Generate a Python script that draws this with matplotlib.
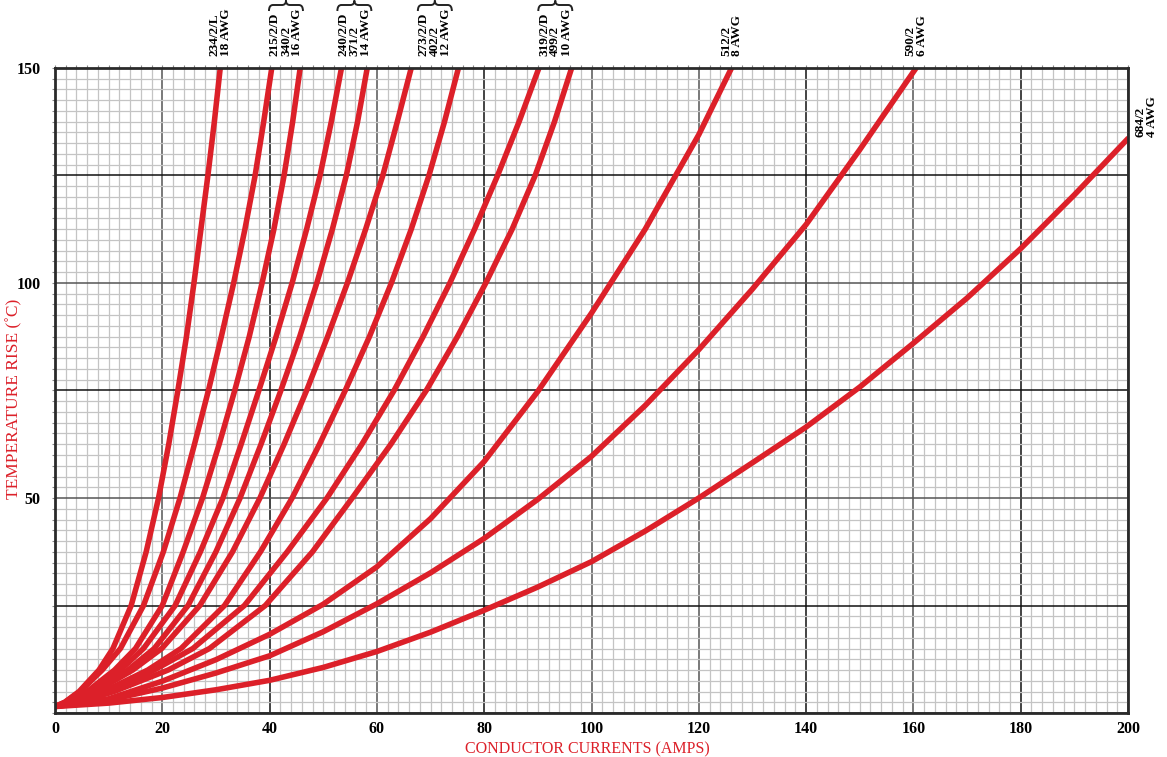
"""
Temperature rise vs conductor current for a set of cable types.
"""
import numpy as np
import matplotlib
matplotlib.use("Agg")
import matplotlib.pyplot as plt
import matplotlib.transforms as mtransforms
from matplotlib.path import Path
from matplotlib.patches import PathPatch
from matplotlib.ticker import MultipleLocator, FuncFormatter

# ---------------------------------------------------------------------------
# data: current (A) -> temperature rise (C)
# ---------------------------------------------------------------------------
# the steep curves were read where they cross the horizontal grid lines
rise_levels = [1.5, 2.5, 5, 10, 15, 25, 37.5, 50, 62.5, 75, 87.5, 100,
               112.5, 125, 137.5, 150]

amps_234_2_L = [0, 1.8, 4.5, 8.2, 10.8, 14.2, 17.0, 19.3, 21.2, 22.9, 24.5,
                25.9, 27.2, 28.5, 29.7, 30.8]
amps_215_2_D = [0, 1.9, 4.7, 8.8, 12.2, 16.5, 20.2, 23.3, 26.0, 28.6, 31.0,
                33.3, 35.4, 37.3, 38.9, 40.4]
amps_340_2 = [0, 2.4, 6.0, 11.1, 15.0, 20.0, 23.9, 27.5, 30.6, 33.5, 36.2,
              38.6, 40.8, 42.7, 44.3, 45.7]
amps_240_2_D = [0, 2.6, 6.4, 12.2, 16.5, 22.4, 27.1, 31.3, 34.7, 38.0, 41.2,
                44.2, 46.9, 49.4, 51.5, 53.4]
amps_371_2 = [0, 2.9, 7.2, 13.6, 18.5, 24.8, 30.0, 34.5, 38.4, 42.1, 45.6,
              48.8, 51.7, 54.3, 56.4, 58.2]
amps_273_2_D = [0, 3.1, 7.6, 14.5, 19.9, 27.0, 33.1, 38.2, 42.7, 46.9, 50.8,
                54.5, 57.9, 61.1, 63.8, 66.4]
amps_402_2 = [0, 3.7, 9.1, 17.3, 23.5, 31.6, 38.3, 44.2, 49.3, 54.1, 58.6,
              62.7, 66.4, 69.7, 72.6, 75.2]
amps_319_2_D = [0, 3.9, 9.6, 18.5, 25.7, 35.3, 43.3, 50.7, 57.2, 63.2, 68.6,
                73.6, 78.2, 82.5, 86.5, 90.2]
amps_499_2 = [0, 4.4, 11.0, 21.1, 28.8, 39.2, 48.0, 55.4, 62.6, 69.2, 75.0,
              80.3, 85.2, 89.5, 93.1, 96.3]

# the flatter curves were read where they cross the vertical grid lines
amps_512_2 = [0, 10, 20, 30, 40, 50, 60, 70, 80, 90, 100, 110, 120, 126.1]
rise_512_2 = [1.5, 3.3, 7.4, 12.4, 18.3, 25.3, 34.0, 45.2, 58.5, 74.8, 93.0,
              112.5, 134.5, 150]

amps_590_2 = [0, 10, 20, 30, 40, 50, 60, 70, 80, 90, 100, 110, 120, 130,
              140, 150, 160.5]
rise_590_2 = [1.5, 3.0, 5.8, 9.3, 13.3, 18.9, 25.4, 32.6, 40.6, 49.7, 59.7,
              71.5, 84.5, 98.6, 113.6, 131.0, 150]

amps_684_2 = [0, 10, 20, 30, 40, 50, 60, 70, 80, 90, 100, 110, 120, 130,
              140, 150, 160, 170, 180, 190, 200]
rise_684_2 = [1.5, 2.3, 3.6, 5.4, 7.6, 10.6, 14.3, 18.8, 23.9, 29.3, 35.2,
              42.3, 50.0, 58.2, 66.5, 75.8, 86.0, 96.5, 108.0, 120.5, 133.6]

curves = [
    (amps_234_2_L, rise_levels), (amps_215_2_D, rise_levels),
    (amps_340_2, rise_levels), (amps_240_2_D, rise_levels),
    (amps_371_2, rise_levels), (amps_273_2_D, rise_levels),
    (amps_402_2, rise_levels), (amps_319_2_D, rise_levels),
    (amps_499_2, rise_levels), (amps_512_2, rise_512_2),
    (amps_590_2, rise_590_2), (amps_684_2, rise_684_2),
]

# labels along the top, and which curves each one belongs to
top_labels = ["234/2/L\n18 AWG", "215/2/D\n340/2\n16 AWG",
              "240/2/D\n371/2\n14 AWG", "273/2/D\n402/2\n12 AWG",
              "319/2/D\n499/2\n10 AWG", "512/2\n8 AWG", "590/2\n6 AWG"]
top_groups = [[0], [1, 2], [3, 4], [5, 6], [7, 8], [9], [10]]
side_label = "684/2\n4 AWG"

RED = "#dc2029"
plt.rcParams["font.family"] = ["Liberation Serif", "DejaVu Serif"]

W, H = 1167, 757
fig = plt.figure(figsize=(W / 100, H / 100), dpi=100)
ax = fig.add_axes([55 / W, (H - 713) / H, (1128 - 55) / W, (713 - 68) / H])

for xs, ys in curves:
    ax.plot(xs, ys, color=RED, lw=4.0, solid_capstyle="round",
            solid_joinstyle="round", zorder=5)

ax.set_xlim(0, 200)
ax.set_ylim(0, 150)

ax.xaxis.set_major_locator(MultipleLocator(20))
ax.xaxis.set_minor_locator(MultipleLocator(2))
ax.yaxis.set_major_locator(MultipleLocator(25))
ax.yaxis.set_minor_locator(MultipleLocator(2.5))
ax.yaxis.set_major_formatter(
    FuncFormatter(lambda v, p: f"{v:.0f}" if v > 0 and v % 50 == 0 else ""))

ax.grid(which="minor", color="#c4c4c4", lw=0.9, zorder=1)
ax.grid(which="major", color="#555555", lw=1.1, zorder=2)
ax.set_axisbelow(True)
fig.canvas.draw()
# the printed grid alternates black and grey heavy lines
for loc, gl in zip(ax.get_xticks(), ax.get_xgridlines()):
    if round(loc) in (40, 80, 140, 180):
        gl.set_color("#111111")
for loc, gl in zip(ax.get_yticks(), ax.get_ygridlines()):
    if round(loc) in (25, 75, 125):
        gl.set_color("#111111")

for s in ax.spines.values():
    s.set_linewidth(2.0)
    s.set_color("#2a2a2a")
    s.set_zorder(6)

ax.tick_params(axis="x", which="both", bottom=False, top=True,
               labelbottom=True, labeltop=False, direction="out",
               length=2.5, width=0.8, color="#888888", pad=3)
ax.tick_params(axis="y", which="both", left=True, right=False,
               direction="out", length=2.5, width=0.8, color="#888888", pad=8)
for lab in ax.get_xticklabels() + ax.get_yticklabels():
    lab.set_fontweight("bold")
    lab.set_fontsize(11.5)

ax.set_xlabel("CONDUCTOR CURRENTS (AMPS)", color=RED, fontsize=11.5)
ax.set_ylabel("TEMPERATURE RISE (˚C)", color=RED, fontsize=12.5)
ax.xaxis.set_label_coords(0.496, -0.056)
ax.yaxis.set_label_coords(-0.038, 0.487)
ax.xaxis.label.set_va("center")
ax.yaxis.label.set_va("center")

# cable labels above the plot, centred over the curves they name
lab_trans = mtransforms.offset_copy(
    mtransforms.blended_transform_factory(ax.transData, ax.transAxes),
    fig=fig, x=0, y=12, units="dots")
for text, idx in zip(top_labels, top_groups):
    xc = np.mean([curves[i][0][-1] for i in idx])
    ax.text(xc, 1.0, text, transform=lab_trans, rotation=90,
            ha="center", va="bottom", multialignment="left",
            fontsize=9.5, fontweight="bold", linespacing=0.92, clip_on=False)
    if len(idx) > 1:
        # curly brace over grouped labels, drawn in pixel units
        xp = ax.transData.transform((xc, 0))[0]
        x0, x1 = xp - 17, xp + 17
        yb, ym, yt = H - 11, H - 5, H - 0.5
        h = 4
        verts = [(x0, yb), (x0, ym), (x0 + h, ym), (xp - h, ym),
                 (xp, ym), (xp, yt), (xp, ym), (xp + h, ym),
                 (x1 - h, ym), (x1, ym), (x1, yb)]
        codes = [Path.MOVETO, Path.CURVE3, Path.CURVE3, Path.LINETO,
                 Path.CURVE3, Path.CURVE3, Path.CURVE3, Path.CURVE3,
                 Path.LINETO, Path.CURVE3, Path.CURVE3]
        fig.patches.append(PathPatch(Path(verts, codes), fc="none",
                                     ec="#222222", lw=1.4,
                                     transform=None, figure=fig))

side_trans = mtransforms.offset_copy(
    mtransforms.blended_transform_factory(ax.transAxes, ax.transData),
    fig=fig, x=18, y=2, units="dots")
ax.text(1.0, rise_684_2[-1], side_label, transform=side_trans,
        rotation=90, ha="center", va="bottom", multialignment="left",
        fontsize=9.5, fontweight="bold", linespacing=0.92, clip_on=False)

fig.savefig("out.png", dpi=100)
